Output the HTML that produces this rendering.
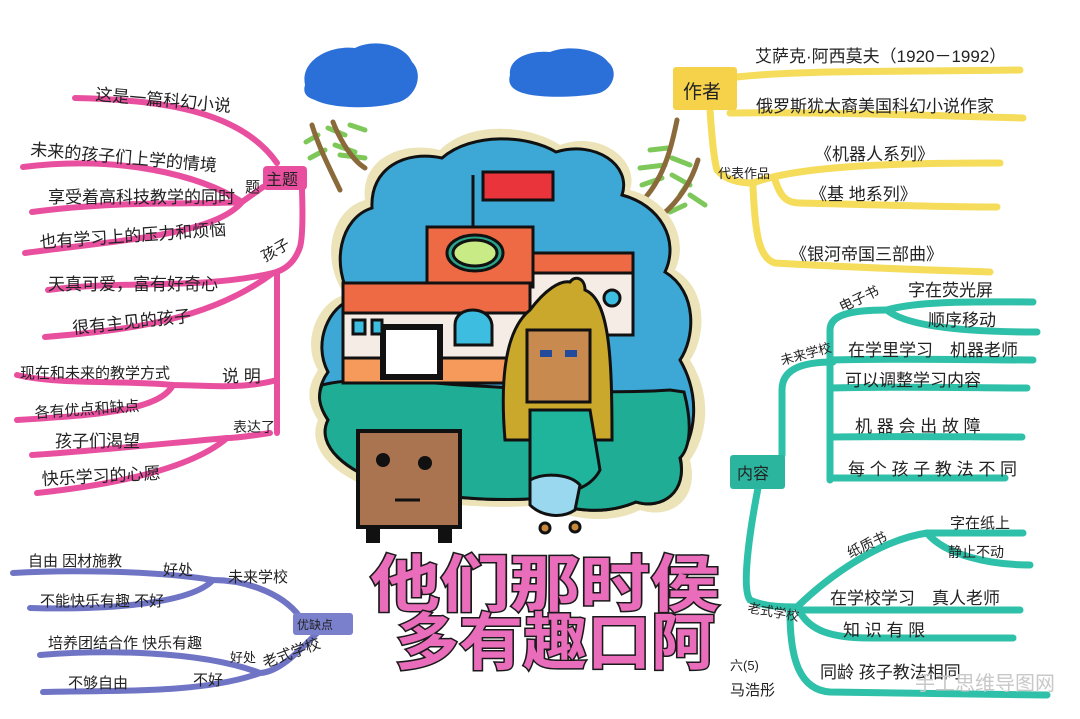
<!DOCTYPE html>
<html><head><meta charset="utf-8"><style>
html,body{margin:0;padding:0;background:#fff;}
svg{display:block}
text{font-family:"Liberation Sans","Noto Sans CJK SC","WenQuanYi Zen Hei",sans-serif;fill:#222;}
</style></head><body>
<svg width="1080" height="719" viewBox="0 0 1080 719" xmlns="http://www.w3.org/2000/svg">
<rect width="1080" height="719" fill="#fff"/>
<!-- clouds -->
<path d="M305,85 C300,60 330,45 355,48 C375,38 405,45 412,62 C425,75 415,100 395,103 C370,110 330,108 315,100 C305,97 303,92 305,85Z" fill="#2b6fd8"/>
<path d="M510,75 C508,58 530,50 550,52 C570,44 600,50 608,62 C620,72 612,92 595,94 C570,98 535,98 520,92 C510,88 508,82 510,75Z" fill="#2b6fd8"/>
<!-- trees -->
<g stroke-linecap="round">
<g stroke="#7ec85a" stroke-width="5">
<line x1="318" y1="135" x2="306" y2="142"/><line x1="325" y1="150" x2="310" y2="158"/><line x1="328" y1="128" x2="345" y2="135"/><line x1="335" y1="145" x2="355" y2="152"/><line x1="340" y1="155" x2="365" y2="158"/><line x1="350" y1="125" x2="365" y2="130"/>
<line x1="668" y1="148" x2="650" y2="150"/><line x1="665" y1="165" x2="640" y2="168"/><line x1="662" y1="178" x2="642" y2="185"/><line x1="672" y1="158" x2="690" y2="165"/><line x1="672" y1="175" x2="690" y2="185"/><line x1="690" y1="180" x2="680" y2="195"/><line x1="690" y1="195" x2="705" y2="205"/><line x1="685" y1="205" x2="670" y2="212"/>
</g>
<g stroke="#8a6a3a" stroke-width="5">
<path d="M312,125 C318,145 328,165 340,190" fill="none"/><path d="M333,122 C340,140 352,160 365,168" fill="none"/>
<path d="M677,120 C672,145 665,175 645,198" fill="none"/><path d="M698,160 C692,180 680,200 662,215" fill="none"/>
</g></g>
<!-- central blob -->
<path d="M318,370 C300,340 320,300 345,295 C320,260 330,210 365,200 C360,160 400,140 440,150 C470,120 530,125 560,145 C600,130 640,160 630,190 C670,200 690,240 675,270 C710,290 705,340 690,360 C715,400 705,440 690,460 C700,500 670,520 640,510 C610,525 570,520 540,505 C500,510 420,505 380,490 C340,480 305,450 318,420 C305,400 308,385 318,370Z" fill="#ece3b8"/>
<path d="M328,372 C312,342 330,305 352,300 C330,265 340,218 372,208 C370,168 405,150 442,158 C472,132 528,135 556,152 C595,140 632,165 622,195 C660,205 680,240 665,272 C698,292 695,338 680,360 C702,398 694,438 680,456 C688,492 662,510 636,502 C606,515 570,512 542,498 C500,502 425,498 385,483 C348,472 315,446 328,420 C316,402 318,386 328,372Z" fill="#3da7d6" stroke="#111" stroke-width="3"/>
<path d="M322,385 C360,375 420,382 460,385 C520,388 600,395 670,390 L684,392 C694,430 688,450 680,458 C688,492 662,510 636,502 C606,515 570,512 542,498 C500,502 425,498 385,483 C348,472 315,446 328,420 C318,405 318,395 322,385Z" fill="#1fae95" stroke="#111" stroke-width="3"/>
<!-- building -->
<g stroke="#111" stroke-width="3">
<line x1="473" y1="175" x2="473" y2="228"/>
<rect x="483" y="172" width="70" height="28" fill="#e8343a"/>
<rect x="527" y="253" width="106" height="82" fill="#f6ece6"/>
<rect x="527" y="253" width="106" height="20" fill="#ee6a45"/>
<rect x="427" y="227" width="106" height="60" fill="#ee6a45"/>
<ellipse cx="475" cy="253" rx="28" ry="18" fill="#2aa58a"/><ellipse cx="475" cy="253" rx="22" ry="13" fill="#c8eb86"/>
<rect x="343" y="283" width="187" height="100" fill="#f6ece6"/>
<rect x="343" y="283" width="187" height="30" fill="#ee6a45"/>
<rect x="343" y="358" width="187" height="25" fill="#f59a5a"/>
<rect x="383" y="327" width="57" height="50" fill="#fff" stroke-width="6"/>
<path d="M455,345 L455,325 C455,305 490,305 492,325 L492,345Z" fill="#3dbde0"/>
<circle cx="612" cy="298" r="8" fill="#3dbde0"/>
<rect x="353" y="320" width="12" height="14" fill="#3dbde0"/><rect x="372" y="320" width="10" height="14" fill="#3dbde0"/>
</g>
<!-- girl -->
<g stroke="#111" stroke-width="3">
<path d="M505,440 C500,380 505,330 530,310 C545,290 560,280 570,282 C575,275 585,278 585,290 C610,300 612,360 612,440 Z" fill="#c9a82c"/>
<rect x="527" y="330" width="63" height="72" fill="#c98a50"/>
<path d="M530,410 L590,410 L600,470 C590,490 560,500 530,485 Z" fill="#1fb59d"/>
<path d="M530,480 C545,472 570,474 580,485 L575,510 C560,520 540,515 530,505Z" fill="#9ad8ef"/>
<circle cx="545" cy="528" r="5" fill="#c8893d"/><circle cx="575" cy="527" r="5" fill="#c8893d"/>
</g>
<rect x="540" y="350" width="12" height="7" fill="#244a9c"/><rect x="565" y="350" width="12" height="7" fill="#244a9c"/>
<!-- box robot -->
<g stroke="#111" stroke-width="4">
<rect x="358" y="431" width="102" height="96" fill="#a9744f"/>
<rect x="368" y="527" width="10" height="14" fill="#111"/><rect x="440" y="527" width="10" height="14" fill="#111"/>
</g>
<circle cx="383" cy="460" r="7" fill="#111"/><circle cx="425" cy="463" r="7" fill="#111"/>
<line x1="395" y1="500" x2="420" y2="500" stroke="#111" stroke-width="3"/>
<!-- pink branches -->
<g fill="none" stroke="#e8509f" stroke-width="6" stroke-linecap="round">
<path d="M75,98 C160,100 240,110 277,163"/>
<path d="M23,167 C120,155 200,175 242,202 L263,187"/>
<path d="M32,212 C120,200 200,205 242,202"/>
<path d="M25,253 C120,240 215,235 242,202"/>
<path d="M302,190 C303,220 302,240 300,247 C295,262 285,270 273,273"/>
<path d="M48,290 C120,280 200,290 273,273"/>
<path d="M45,337 C130,330 210,320 273,273"/>
<path d="M277,273 L277,433"/>
<path d="M277,380 C240,390 200,385 173,385 C120,380 60,385 17,375"/>
<path d="M173,385 C160,410 100,415 17,420"/>
<path d="M270,433 C250,436 235,438 227,438 C150,445 80,452 32,455"/>
<path d="M227,438 C190,470 110,485 37,493"/>
</g>
<rect x="263" y="166" width="44" height="24" rx="4" fill="#e8509f"/>
<!-- purple branches -->
<g fill="none" stroke="#6f74c4" stroke-width="6" stroke-linecap="round">
<path d="M300,617 C280,590 240,580 213,580 C150,570 60,570 13,573"/>
<path d="M213,580 C190,605 100,610 30,608"/>
<path d="M320,630 C300,650 280,672 260,673 C200,650 100,650 40,655"/>
<path d="M260,673 C200,695 100,690 43,692"/>
</g>
<rect x="293" y="613" width="60" height="22" rx="3" fill="#7a80cc"/>
<!-- yellow branches -->
<g fill="none" stroke="#f5dc5a" stroke-width="7" stroke-linecap="round">
<path d="M737,77 C800,70 900,72 1020,70"/>
<path d="M730,113 C820,112 920,115 1023,118"/>
<path d="M710,110 C712,140 714,160 717,170 C725,180 740,183 753,183 C800,165 900,163 1000,163"/>
<path d="M775,180 C780,195 785,203 800,203 C880,205 950,207 997,207"/>
<path d="M753,187 C755,230 758,258 775,263 C860,268 930,270 990,272"/>
</g>
<rect x="673" y="67" width="64" height="43" rx="3" fill="#f5d24a"/>
<!-- teal branches -->
<g fill="none" stroke="#2ec0a8" stroke-width="7" stroke-linecap="round">
<path d="M782,455 L782,390 C782,370 800,362 833,362"/>
<path d="M830,480 L830,330 C830,315 850,310 887,310"/>
<path d="M887,310 C920,300 990,302 1033,302"/>
<path d="M887,310 C910,330 990,332 1037,332"/>
<path d="M830,360 C900,358 980,360 1033,360"/>
<path d="M830,388 C900,386 980,388 1027,388"/>
<path d="M830,437 C900,436 970,437 1022,437"/>
<path d="M830,478 L1005,478"/>
<path d="M758,488 C748,540 742,590 750,600 C765,607 785,607 797,607"/>
<path d="M797,607 C830,575 880,540 927,533 L1023,533"/>
<path d="M927,533 C945,555 990,565 1030,565"/>
<path d="M800,610 L1020,610"/>
<path d="M800,612 C810,630 830,638 870,638 L1013,638"/>
<path d="M790,612 C790,660 800,690 830,692 L1047,695"/>
</g>
<rect x="730" y="455" width="55" height="34" rx="3" fill="#2bb59e"/>
<!-- texts pink -->
<g font-size="17">
<text x="95" y="100" transform="rotate(5 95 100)">这是一篇科幻小说</text>
<text x="30" y="155" transform="rotate(5 30 155)">未来的孩子们上学的情境</text>
<text x="48" y="203">享受着高科技教学的同时</text>
<text x="40" y="248" transform="rotate(-4 40 248)">也有学习上的压力和烦恼</text>
<text x="245" y="192" font-size="15">题</text>
<text x="266" y="185" font-size="16">主题</text>
<text x="265" y="262" font-size="15" transform="rotate(-30 265 262)">孩子</text>
<text x="48" y="290">天真可爱，富有好奇心</text>
<text x="73" y="334" transform="rotate(-6 73 334)">很有主见的孩子</text>
<text x="20" y="378" font-size="15">现在和未来的教学方式</text>
<text x="222" y="382">说 明</text>
<text x="35" y="418" font-size="15" transform="rotate(-4 35 418)">各有优点和缺点</text>
<text x="233" y="432" font-size="14">表达了</text>
<text x="55" y="447">孩子们渴望</text>
<text x="42" y="485" transform="rotate(-3 42 485)">快乐学习的心愿</text>
</g>
<!-- purple texts -->
<g font-size="15">
<text x="28" y="566">自由 因材施教</text><text x="163" y="575">好处</text><text x="228" y="582">未来学校</text>
<text x="40" y="606">不能快乐有趣 不好</text>
<text x="297" y="629" font-size="12">优缺点</text>
<text x="48" y="648">培养团结合作 快乐有趣</text><text x="230" y="662" font-size="13">好处</text><text x="265" y="668" transform="rotate(-20 265 668)">老式学校</text>
<text x="68" y="688">不够自由</text><text x="193" y="685">不好</text>
</g>
<!-- yellow texts -->
<g font-size="17">
<text x="755" y="62">艾萨克·阿西莫夫（1920－1992）</text>
<text x="756" y="112">俄罗斯犹太裔美国科幻小说作家</text>
<text x="683" y="98" font-size="19">作者</text>
<text x="718" y="178" font-size="13">代表作品</text>
<text x="815" y="160">《机器人系列》</text>
<text x="810" y="200">《基 地系列》</text>
<text x="790" y="260">《银河帝国三部曲》</text>
</g>
<!-- teal texts -->
<g font-size="17">
<text x="908" y="296">字在荧光屏</text>
<text x="928" y="326">顺序移动</text>
<text x="842" y="312" font-size="14" transform="rotate(-25 842 312)">电子书</text>
<text x="782" y="365" font-size="13" transform="rotate(-15 782 365)">未来学校</text>
<text x="848" y="356">在学里学习　机器老师</text>
<text x="845" y="386">可以调整学习内容</text>
<text x="855" y="432">机 器 会 出 故 障</text>
<text x="848" y="475">每 个 孩 子 教 法 不 同</text>
<text x="737" y="479" font-size="16">内容</text>
<text x="850" y="558" font-size="14" transform="rotate(-25 850 558)">纸质书</text>
<text x="950" y="528" font-size="15">字在纸上</text>
<text x="948" y="557" font-size="14">静止不动</text>
<text x="747" y="612" font-size="13" transform="rotate(10 747 612)">老式学校</text>
<text x="830" y="604">在学校学习　真人老师</text>
<text x="843" y="636">知 识 有 限</text>
<text x="820" y="678">同龄 孩子教法相同</text>
<text x="730" y="670" font-size="13">六(5)</text>
<text x="730" y="695" font-size="15">马浩彤</text>
<text x="915" y="690" font-size="20" style="fill:#c8c8c8">手工思维导图网</text>
</g>
<!-- title -->
<g font-size="62" font-weight="bold" style="paint-order:stroke">
<text x="370" y="606" textLength="350" lengthAdjust="spacingAndGlyphs" style="fill:#e96dbb;stroke:#1a1a1a;stroke-width:3">他们那时侯</text>
<text x="395" y="664" textLength="320" lengthAdjust="spacingAndGlyphs" style="fill:#e96dbb;stroke:#1a1a1a;stroke-width:3">多有趣口阿</text>
</g>
</svg>
</body></html>
